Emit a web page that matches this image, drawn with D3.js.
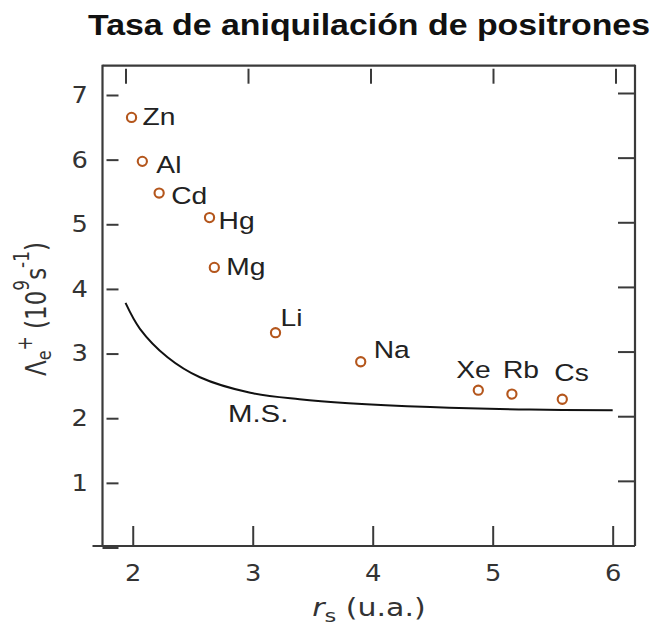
<!DOCTYPE html>
<html>
<head>
<meta charset="utf-8">
<script src="https://cdn.jsdelivr.net/npm/d3@7"></script>
<style>
  body { margin: 0; background: #fff; }
</style>
</head>
<body>
<div id="chart"></div>
<script>
// data
var elements = ["Zn", "Al", "Cd", "Hg", "Mg", "Li", "Na", "Xe", "Rb", "Cs"];
var rsValues = [1.99, 2.08, 2.22, 2.64, 2.68, 3.19, 3.90, 4.88, 5.16, 5.58];
var rateValues = [6.63, 5.95, 5.46, 5.08, 4.31, 3.30, 2.85, 2.41, 2.35, 2.27];
// label offsets from the point (dx to text start, dy to baseline), px
var labelDx = [11, 14, 12, 9, 12, 5, 13, -22, -9, -8];
var labelDy = [8, 12, 11, 11, 8, -7, -4, -12, -16, -18];

// M.S. (theory) curve
var msX = [1.94, 2.06, 2.29, 2.56, 2.98, 3.39, 3.8, 4.48, 5.31, 6.0];
var msY = [3.76, 3.36, 2.92, 2.61, 2.37, 2.27, 2.21, 2.15, 2.11, 2.10];

var xTicks = [2, 3, 4, 5, 6];
var yTicks = [0, 1, 2, 3, 4, 5, 6, 7];
var yTickLabels = ["", "1", "2", "3", "4", "5", "6", "7"];

var w = 654;
var h = 626;

var svg = d3.select("#chart")
            .append("svg")
            .attr("width", w)
            .attr("height", h);

var x = d3.scaleLinear()
          .domain([1.748, 6.186])
          .range([102.5, 635]);

// top tick marks sit slightly off the bottom ones in the picture
var xTop = d3.scaleLinear()
             .domain([2, 6])
             .range([126, 616]);

var y = d3.scaleLinear()
          .domain([0, 7.43])
          .range([546, 65.7]);

var axisColor = "#3a3a3a";
var tickFont = "'DejaVu Sans', sans-serif";
var labelFont = "'Liberation Sans', Arial, sans-serif";

// title
svg.append("text")
   .attr("x", 88)
   .attr("y", 35)
   .attr("font-family", labelFont)
   .attr("font-weight", "bold")
   .attr("font-size", 30)
   .attr("fill", "#111")
   .attr("textLength", 562)
   .attr("lengthAdjust", "spacingAndGlyphs")
   .text("Tasa de aniquilación de positrones");

// frame
var x0 = x.range()[0], x1 = x.range()[1];
var y0 = y.range()[0], y1 = y.range()[1];
var frame = svg.append("g")
               .attr("stroke", axisColor)
               .attr("stroke-width", 2.2)
               .attr("fill", "none");
frame.append("line").attr("x1", x0).attr("x2", x0).attr("y1", y1 - 1).attr("y2", y0);
frame.append("line").attr("x1", x1).attr("x2", x1).attr("y1", y1 - 1).attr("y2", y0);
frame.append("line").attr("x1", x0).attr("x2", x1).attr("y1", y1).attr("y2", y1);
frame.append("line").attr("x1", x0 - 10).attr("x2", x1).attr("y1", y0).attr("y2", y0);

// x axis (bottom, ticks pointing inward)
var xAxis = svg.append("g")
   .attr("transform", "translate(0," + y0 + ")")
   .call(d3.axisBottom(x).tickValues(xTicks).tickFormat(d3.format("d")).tickSize(-20).tickPadding(19));
xAxis.select(".domain").remove();
xAxis.selectAll("line").attr("stroke", axisColor).attr("stroke-width", 2);
xAxis.selectAll("text")
     .attr("font-family", tickFont)
     .attr("font-size", 23)
     .attr("fill", "#333")
     .attr("transform", "scale(1.12,1)");

// top ticks, detached from the frame
svg.append("g")
   .selectAll("line")
   .data(xTicks)
   .enter()
   .append("line")
   .attr("x1", d => xTop(d))
   .attr("x2", d => xTop(d))
   .attr("y1", y1 + 3)
   .attr("y2", y1 + 18)
   .attr("stroke", axisColor)
   .attr("stroke-width", 2);

// y axis (left, ticks pointing inward, detached from the frame)
var yAxis = svg.append("g")
   .attr("transform", "translate(" + x0 + ",1.5)")
   .call(d3.axisLeft(y).tickValues(yTicks).tickFormat((d, i) => yTickLabels[i]).tickSize(-16).tickPadding(0));
yAxis.select(".domain").remove();
yAxis.selectAll("line")
     .attr("x1", d => d === 0 ? 0 : 4)
     .attr("x2", 16)
     .attr("stroke", axisColor)
     .attr("stroke-width", 2);
yAxis.selectAll("text")
     .attr("x", null)
     .attr("transform", "translate(-14.5,0) scale(1.12,1)")
     .attr("font-family", tickFont)
     .attr("font-size", 23)
     .attr("fill", "#333");

// right ticks
svg.append("g")
   .selectAll("line")
   .data(yTicks.slice(1))
   .enter()
   .append("line")
   .attr("x1", x1)
   .attr("x2", x1 - 17)
   .attr("y1", d => y(d))
   .attr("y2", d => y(d))
   .attr("stroke", axisColor)
   .attr("stroke-width", 2);

// M.S. curve
var msData = msX.map((v, i) => [v, msY[i]]);
var line = d3.line()
             .x(d => x(d[0]))
             .y(d => y(d[1]))
             .curve(d3.curveCatmullRom.alpha(0.5));
svg.append("path")
   .datum(msData)
   .attr("d", line)
   .attr("fill", "none")
   .attr("stroke", "#111")
   .attr("stroke-width", 2);

svg.append("text")
   .attr("transform", "translate(228,421.5) scale(1.25,1)")
   .attr("font-family", labelFont)
   .attr("font-size", 23.5)
   .attr("fill", "#222")
   .text("M.S.");

// points
var points = elements.map((e, i) => ({name: e, rs: rsValues[i], rate: rateValues[i], dx: labelDx[i], dy: labelDy[i]}));

svg.append("g")
   .selectAll("circle")
   .data(points)
   .enter()
   .append("circle")
   .attr("cx", d => x(d.rs))
   .attr("cy", d => y(d.rate))
   .attr("r", 4.6)
   .attr("fill", "#fff")
   .attr("stroke", "#b4561c")
   .attr("stroke-width", 2.1);

svg.append("g")
   .selectAll("text")
   .data(points)
   .enter()
   .append("text")
   .attr("transform", d => "translate(" + (x(d.rs) + d.dx) + "," + (y(d.rate) + d.dy) + ") scale(1.2,1)")
   .attr("font-family", labelFont)
   .attr("font-size", 23.5)
   .attr("fill", "#222")
   .text(d => d.name);

// axis labels
var xl = svg.append("text")
   .attr("transform", "translate(369,616) scale(1.25,1)")
   .attr("text-anchor", "middle")
   .attr("font-family", tickFont)
   .attr("font-size", 24)
   .attr("fill", "#333");
xl.append("tspan").attr("font-style", "italic").text("r");
xl.append("tspan").attr("font-size", 18).attr("dy", 6).text("s");
xl.append("tspan").attr("dy", -6).text(" (u.a.)");

var yl = svg.append("text")
   .attr("transform", "translate(46,309) rotate(-90) scale(1,1.2)")
   .attr("text-anchor", "middle")
   .attr("font-family", tickFont)
   .attr("font-size", 23)
   .attr("fill", "#333");
yl.append("tspan").text("Λ");
yl.append("tspan").attr("font-size", 16).attr("dy", 4).text("e");
yl.append("tspan").attr("font-size", 17).attr("dy", -16).text("+");
yl.append("tspan").attr("dy", 12).text(" (10");
yl.append("tspan").attr("font-size", 17).attr("dy", -14).text("9");
yl.append("tspan").attr("dy", 14).text("s");
yl.append("tspan").attr("font-size", 17).attr("dy", -14).text("-1");
yl.append("tspan").attr("dy", 14).text(")");
</script>
</body>
</html>
